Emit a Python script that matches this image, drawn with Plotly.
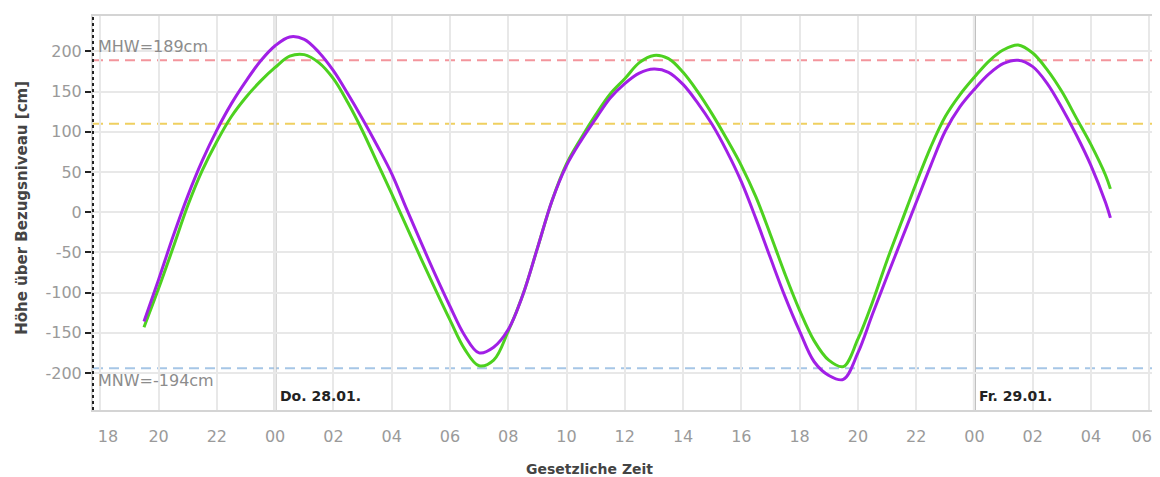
import plotly.graph_objects as go
import pandas as pd

# ---- data ----
start_time = "2021-01-27 19:30"
step_minutes = 30
purple_vals = [-136, -84, -30, 20, 64, 102, 135, 163, 188, 207, 218, 215, 199, 176,
               147, 116, 83, 48, 5, -37, -78, -117, -153, -175, -168, -146, -103, -45,
               14, 58, 89, 116, 142, 160, 173, 178, 174, 159, 136, 109, 76, 38, -8,
               -57, -105, -148, -186, -203, -208, -175, -127, -80, -34, 12, 58, 101,
               131, 153, 172, 185, 189, 181, 160, 130, 96, 58, 12]
green_vals = [-143, -95, -44, 8, 52, 88, 119, 143, 163, 180, 194, 196, 186, 166,
              136, 101, 62, 23, -17, -57, -96, -134, -170, -191, -184, -148, -103, -45,
              14, 60, 92, 121, 147, 166, 186, 195, 191, 174, 150, 122, 91, 58, 19,
              -28, -77, -122, -160, -184, -192, -158, -112, -60, -12, 36, 81, 119,
              146, 168, 188, 202, 208, 198, 177, 150, 117, 84, 46]
end_time = "2021-01-29 04:40"
purple_end = -7
green_end = 29

mhw = 189
mnw = -194
mid_level = 110
day_lines = ["2021-01-28 00:00", "2021-01-29 00:00"]
day_labels = ["Do. 28.01.", "Fr. 29.01."]
x_tick_start = "2021-01-27 18:00"
x_tick_end = "2021-01-29 06:00"
x_tick_labels = ["18", "20", "22", "00", "02", "04", "06", "08", "10", "12", "14", "16",
                 "18", "20", "22", "00", "02", "04", "06"]
y_ticks = [200, 150, 100, 50, 0, -50, -100, -150, -200]
y_ticktext = ["200", "150", "100", "50", "0", "-50", "-100", "-150", "-200"]

times = list(pd.date_range(start_time, periods=len(purple_vals), freq=f"{step_minutes}min"))
times.append(pd.Timestamp(end_time))
purple = purple_vals + [purple_end]
green = green_vals + [green_end]

x_tickvals = list(pd.date_range(x_tick_start, x_tick_end, freq="2h"))
NB = "\u00a0"
x_ticktext = list(x_tick_labels)
x_ticktext[0] = NB * 3 + x_ticktext[0]     # first/last labels sit inside the plot edges, as in the reference
x_ticktext[-1] = x_ticktext[-1] + NB * 3

FONT = "DejaVu Sans"
fig = go.Figure()
fig.add_trace(go.Scatter(x=times, y=green, mode="lines", line=dict(color="#4dd11f", width=3, shape="spline"),
                         showlegend=False))
fig.add_trace(go.Scatter(x=times, y=purple, mode="lines", line=dict(color="#a11fe6", width=3, shape="spline"),
                         showlegend=False))

x0 = "2021-01-27 17:45"
x1 = "2021-01-29 06:18"

# reference lines
dash = "10px,6px"
fig.add_shape(type="line", xref="paper", x0=0, x1=1, y0=mhw, y1=mhw,
              line=dict(color="#f3959c", width=2, dash=dash), layer="below")
fig.add_shape(type="line", xref="paper", x0=0, x1=1, y0=mid_level, y1=mid_level,
              line=dict(color="#efd060", width=2, dash=dash), layer="below")
fig.add_shape(type="line", xref="paper", x0=0, x1=1, y0=mnw, y1=mnw,
              line=dict(color="#a6c6e6", width=2, dash=dash), layer="below")
fig.add_shape(type="line", xref="paper", x0=0, x1=1, y0=0, y1=0,
              line=dict(color="#dcdcdc", width=1, dash="dot"), layer="below")
for d in day_lines:
    fig.add_shape(type="line", yref="paper", x0=d, x1=d, y0=0, y1=1,
                  line=dict(color="#bdbdbd", width=3), layer="below")
# dotted y axis line
fig.add_shape(type="line", xref="paper", yref="paper", x0=0, x1=0, y0=0, y1=1,
              line=dict(color="#222222", width=2, dash="dot"))

fig.add_annotation(xref="paper", x=0.003, y=mhw, yshift=2, text=f"MHW={mhw}cm", showarrow=False,
                   xanchor="left", yanchor="bottom", font=dict(family=FONT, size=16, color="#8c8c8c"))
fig.add_annotation(xref="paper", x=0.003, y=mnw, yshift=-1, text=f"MNW={mnw}cm", showarrow=False,
                   xanchor="left", yanchor="top", font=dict(family=FONT, size=16, color="#8c8c8c"))
for d, lab in zip(day_lines, day_labels):
    fig.add_annotation(x=d, yref="paper", y=0, xshift=3, yshift=4, text=f"<b>{lab}</b>", showarrow=False,
                       xanchor="left", yanchor="bottom", font=dict(family=FONT, size=14, color="#222222"))

fig.add_annotation(xref="paper", yref="paper", x=0.466, y=-0.125, text="<b>Gesetzliche Zeit</b>",
                   showarrow=False, xanchor="center", yanchor="top",
                   font=dict(family=FONT, size=14, color="#444444"))
fig.add_annotation(xref="paper", yref="paper", x=-0.0667, y=0.513, text="<b>Höhe über Bezugsniveau [cm]</b>",
                   showarrow=False, xanchor="center", yanchor="middle", textangle=-90,
                   font=dict(family=FONT, size=15, color="#444444"))

# the page body has an 8px default margin, so the figure is sized/offset to compensate
fig.update_layout(
    width=1152, height=469,
    margin=dict(l=85, r=2, t=8, b=67),
    paper_bgcolor="white", plot_bgcolor="white",
    font=dict(family=FONT, size=16, color="#9a9a9a"),
)
fig.update_xaxes(
    type="date", range=[x0, x1], tickvals=x_tickvals, ticktext=x_ticktext,
    showgrid=True, gridcolor="#e8e8e8", gridwidth=1.5,
    showline=True, linecolor="#d4d4d4", linewidth=2, mirror=True,
    ticks="", ticklabelstandoff=11, ticklabeloverflow="allow",
    tickfont=dict(family=FONT, size=16, color="#9a9a9a"),
    zeroline=False, automargin=False,
)
fig.update_yaxes(
    range=[-246, 244], tickvals=y_ticks, ticktext=y_ticktext,
    showgrid=True, gridcolor="#e8e8e8", gridwidth=1.5,
    showline=True, linecolor="#d4d4d4", linewidth=2, mirror=True,
    ticks="outside", ticklen=6, tickwidth=2, tickcolor="#222222",
    tickfont=dict(family=FONT, size=16, color="#9a9a9a"),
    zeroline=False, automargin=False,
)
fig.write_html("out.html")
